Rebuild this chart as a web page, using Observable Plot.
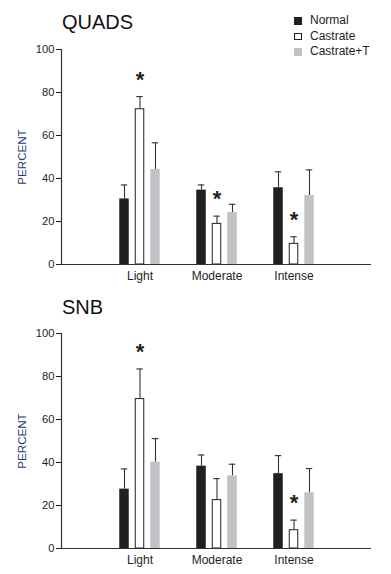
<!DOCTYPE html>
<html>
<head>
<meta charset="utf-8">
<script src="https://cdn.jsdelivr.net/npm/d3@7"></script>
<script src="https://cdn.jsdelivr.net/npm/@observablehq/plot@0.6"></script>
<style>
  html, body { margin: 0; padding: 0; background: #fff; }
  #root { position: relative; width: 391px; height: 574px; overflow: hidden; font-family: "Liberation Sans", Arial, sans-serif; color: #231f20; }
  .title { position: absolute; left: 62px; font-size: 20px; line-height: 20px; color: #111; }
  .panel { position: absolute; left: 0; }
  .legend { position: absolute; left: 294px; top: 13px; font-size: 12px; line-height: 15.7px; color: #231f20; }
  .legend .row { display: flex; align-items: center; height: 15.7px; }
  .legend .sw { width: 7.5px; height: 7.5px; box-sizing: border-box; margin-right: 8.5px; }
  g[aria-label="y-axis label"] text { fill: #1f3877; font-size: 11.6px; }
</style>
</head>
<body>
<div id="root"></div>
<script>
// ---- data ----
const groups = ["Light", "Moderate", "Intense"];
const series = ["Normal", "Castrate", "Castrate+T"];
const yTicks = [0, 20, 40, 60, 80, 100];

// QUADS panel: means and error (SE) per group
const quadsNormal = [30.5, 34.6, 35.7];
const quadsNormalErr = [6.5, 2.4, 7.4];
const quadsCastrate = [72.2, 18.9, 9.6];
const quadsCastrateErr = [5.9, 3.6, 3.3];
const quadsCastrateT = [44.2, 24.2, 32.1];
const quadsCastrateTErr = [12.4, 3.8, 11.9];
const quadsSignificant = [true, true, true]; // Castrate marked with *

// SNB panel
const snbNormal = [27.6, 38.3, 34.8];
const snbNormalErr = [9.4, 5.2, 8.4];
const snbCastrate = [69.5, 22.5, 8.5];
const snbCastrateErr = [14.0, 10.0, 4.7];
const snbCastrateT = [40.1, 33.8, 25.9];
const snbCastrateTErr = [11.0, 5.4, 11.3];
const snbSignificant = [true, false, true];

const colors = ["#231f20", "#ffffff", "#c1c2c5"];

function buildRows(means, errs, sig) {
  const rows = [];
  groups.forEach((g, i) => series.forEach((s, j) => {
    rows.push({group: g, series: s, value: means[j][i], err: errs[j][i], sig: j === 1 && sig[i]});
  }));
  return rows;
}

function makePanel(rows) {
  const marks = [];
  series.forEach((s, j) => {
    const d = rows.filter(r => r.series === s);
    const dx = (j - 1) * 15.5;
    marks.push(
      Plot.ruleX(d, {x: "group", y1: "value", y2: r => r.value + r.err, dx, stroke: "#333", strokeWidth: 1.1}),
      Plot.tickY(d, {x: "group", y: r => r.value + r.err, dx, insetLeft: 35.25, insetRight: 35.25, stroke: "#333", strokeWidth: 1.1}),
      Plot.barY(d, {x: "group", y: "value", fill: "series", dx,
        stroke: s === "Castrate" ? "#231f20" : "none", strokeWidth: 1,
        insetLeft: s === "Castrate" ? 34.25 : 33.75, insetRight: s === "Castrate" ? 34.25 : 33.75}),
      Plot.text(d.filter(r => r.sig), {x: "group", y: r => r.value + r.err, text: () => "*", dx, dy: -17,
        fontSize: 22, fontWeight: "bold", fill: "#231f20"})
    );
  });
  return Plot.plot({
    width: 391,
    height: 245,
    marginLeft: 61,
    marginRight: 20,
    marginTop: 9,
    marginBottom: 21,
    style: {fontFamily: "Liberation Sans, Arial, sans-serif", color: "#231f20", background: "transparent"},
    x: {domain: groups, paddingInner: 0, paddingOuter: 0.5},
    y: {domain: [0, 100]},
    color: {domain: series, range: colors},
    marks: [
      ...marks,
      Plot.ruleY([0], {stroke: "#333", strokeWidth: 1.2}),
      Plot.frame({anchor: "left", stroke: "#333", strokeWidth: 1.2}),
      Plot.axisY({ticks: yTicks, tickSize: 5, tickPadding: 2, fontSize: 11.2, label: "PERCENT",
        labelAnchor: "center", labelOffset: 44, labelArrow: "none"}),
      Plot.axisX({tickSize: 0, tickPadding: 7, fontSize: 12, label: null})
    ]
  });
}

const root = document.getElementById("root");

function addTitle(text, top) {
  const t = document.createElement("div");
  t.className = "title";
  t.style.top = top + "px";
  t.textContent = text;
  root.appendChild(t);
}

function addPanel(svg, top) {
  const wrap = document.createElement("div");
  wrap.className = "panel";
  wrap.style.top = top + "px";
  wrap.appendChild(svg);
  root.appendChild(wrap);
}

addTitle("QUADS", 12);
addPanel(makePanel(buildRows([quadsNormal, quadsCastrate, quadsCastrateT], [quadsNormalErr, quadsCastrateErr, quadsCastrateTErr], quadsSignificant)), 40);
addTitle("SNB", 297);
addPanel(makePanel(buildRows([snbNormal, snbCastrate, snbCastrateT], [snbNormalErr, snbCastrateErr, snbCastrateTErr], snbSignificant)), 324);

// legend
const legend = document.createElement("div");
legend.className = "legend";
series.forEach((s, j) => {
  const row = document.createElement("div");
  row.className = "row";
  const sw = document.createElement("div");
  sw.className = "sw";
  sw.style.background = colors[j];
  if (s === "Castrate") sw.style.border = "1px solid #231f20";
  const label = document.createElement("span");
  label.textContent = s;
  row.appendChild(sw);
  row.appendChild(label);
  legend.appendChild(row);
});
root.appendChild(legend);
</script>
</body>
</html>
